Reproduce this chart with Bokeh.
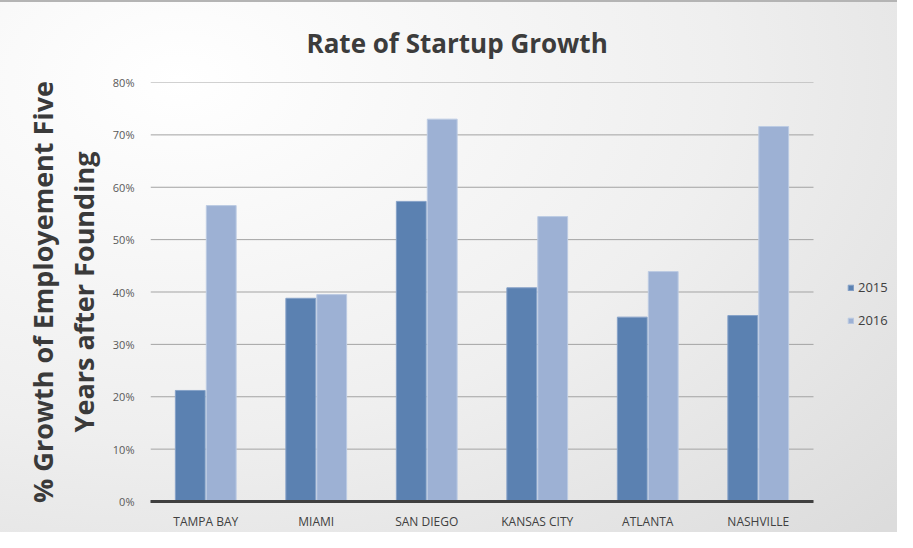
import numpy as np
from bokeh.plotting import figure
from bokeh.models import (ColumnDataSource, Range1d, Legend, LegendItem,
                          NumeralTickFormatter, FixedTicker)
from bokeh.transform import dodge
from bokeh.embed import file_html
from bokeh.resources import INLINE

cities = ["TAMPA BAY", "MIAMI", "SAN DIEGO", "KANSAS CITY", "ATLANTA", "NASHVILLE"]
growth_2015 = [0.212, 0.388, 0.573, 0.408, 0.352, 0.355]
growth_2016 = [0.565, 0.395, 0.730, 0.544, 0.439, 0.716]
series_names = ["2015", "2016"]
y_ticks = [0.0, 0.1, 0.2, 0.3, 0.4, 0.5, 0.6, 0.7, 0.8]

n = len(cities)
pos = list(np.arange(n) + 0.5)
src = ColumnDataSource(dict(pos=pos, city=cities, y2015=growth_2015, y2016=growth_2016))

FONT = "Open Sans"
LEFT, RIGHT_PLOT, TOP, BOTTOM = 150, 813, 82, 29
W, H = 897, 532
x_end = n * (W - LEFT) / (RIGHT_PLOT - LEFT)

p = figure(x_range=Range1d(0, x_end), y_range=Range1d(0, 0.8),
           width=W, height=H, output_backend="svg", toolbar_location=None,
           min_border_left=LEFT, min_border_right=0, min_border_top=TOP,
           min_border_bottom=BOTTOM)

p.background_fill_color = None
p.border_fill_color = None
p.outline_line_color = None
p.styles = {
    "background": "radial-gradient(ellipse 110% 120% at 20% 15%, #ffffff 0%, #efefef 55%, #dcdcdc 100%)",
    "box-shadow": "inset 0 2px 0 #b4b4b4",
}

p.title.text = "Rate of Startup Growth"
p.title.align = "left"
p.title.offset = 156
p.title.standoff = 44
p.title.text_line_height = 1.0
p.title.text_font = FONT
p.title.text_font_size = "26px"
p.title.text_font_style = "bold"
p.title.text_color = "#3c3c3c"

# gridlines limited to the category span
grid_src = ColumnDataSource(dict(y=y_ticks, x0=[0] * len(y_ticks), x1=[n] * len(y_ticks)))
p.segment(x0="x0", x1="x1", y0="y", y1="y", source=grid_src,
          line_color="#a3a3a3", line_width=1, level="underlay")

r1 = p.vbar(x=dodge("pos", -0.14, range=p.x_range), top="y2015", width=0.27,
            source=src, fill_color="#5b81b1", line_color="#86a2c8", line_width=1)
r2 = p.vbar(x=dodge("pos", 0.14, range=p.x_range), top="y2016", width=0.27,
            source=src, fill_color="#9db1d4", line_color="#bccbe3", line_width=1)

p.xgrid.visible = False
p.ygrid.visible = False

p.yaxis.ticker = FixedTicker(ticks=y_ticks)
p.yaxis.formatter = NumeralTickFormatter(format="0%")
p.yaxis.axis_line_color = None
p.yaxis.major_tick_line_color = None
p.yaxis.minor_tick_line_color = None
p.yaxis.major_label_text_font = FONT
p.yaxis.major_label_text_font_size = "11px"
p.yaxis.major_label_text_color = "#595959"
p.yaxis.major_label_standoff = 10
p.yaxis.axis_label = "% Growth of Employement Five\nYears after Founding"
p.yaxis.axis_label_text_font = FONT
p.yaxis.axis_label_text_font_size = "27px"
p.yaxis.axis_label_text_font_style = "bold"
p.yaxis.axis_label_text_color = "#3a3a3a"
p.yaxis.axis_label_text_line_height = 1.1
p.yaxis.axis_label_standoff = 8

p.xaxis.ticker = FixedTicker(ticks=pos)
p.xaxis.major_label_overrides = {float(x): c for x, c in zip(pos, cities)}
p.xaxis.bounds = (0, n)
p.xaxis.axis_line_color = "#404040"
p.xaxis.axis_line_width = 3
p.xaxis.major_tick_line_color = None
p.xaxis.minor_tick_line_color = None
p.xaxis.major_label_text_font = FONT
p.xaxis.major_label_text_font_size = "12px"
p.xaxis.major_label_text_color = "#404040"
p.xaxis.major_label_standoff = 5

legend = Legend(items=[LegendItem(label=series_names[0], renderers=[r1]),
                       LegendItem(label=series_names[1], renderers=[r2])],
                location=(697, 171), orientation="vertical")
legend.glyph_width = 7
legend.glyph_height = 7
legend.label_text_font = FONT
legend.label_text_font_size = "13px"
legend.label_text_color = "#404040"
legend.label_standoff = 4
legend.label_height = 20
legend.spacing = 13
legend.padding = 0
legend.margin = 0
legend.border_line_color = None
legend.background_fill_alpha = 0
p.add_layout(legend)

open("out.html", "w").write(file_html(p, INLINE))
